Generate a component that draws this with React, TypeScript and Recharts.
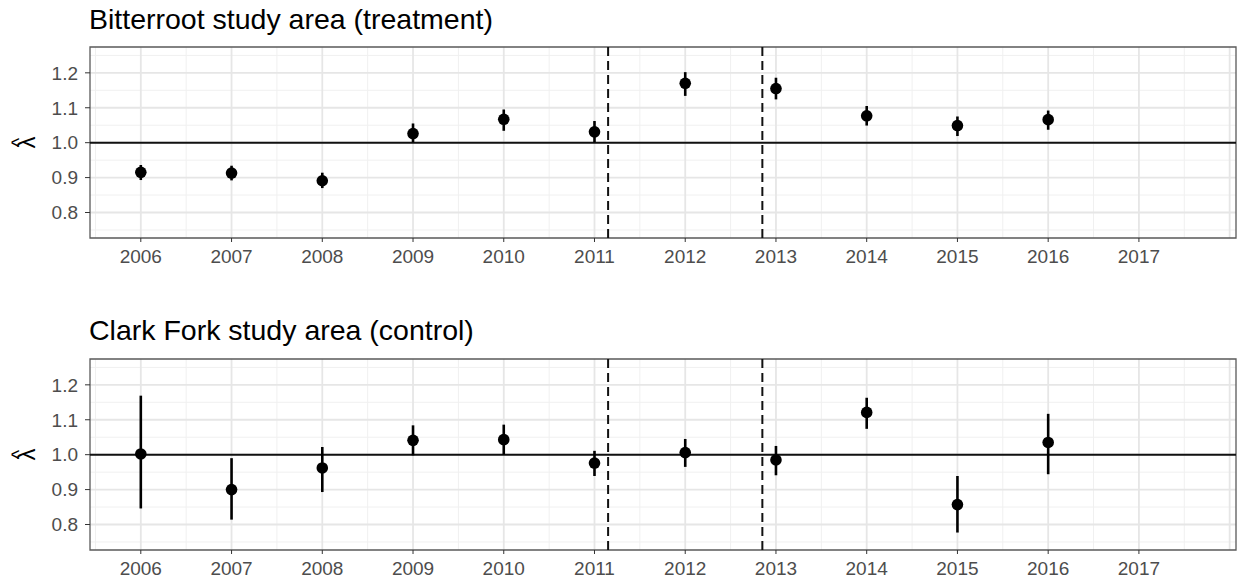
import React from "react"
import {
  ScatterChart, Scatter, XAxis, YAxis, CartesianGrid, ErrorBar,
  ReferenceLine, ReferenceArea, Label,
} from "recharts"

const years = [2006, 2007, 2008, 2009, 2010, 2011, 2012, 2013, 2014, 2015, 2016]

const bitterEst = [0.915, 0.913, 0.891, 1.026, 1.067, 1.031, 1.170, 1.155, 1.077, 1.049, 1.066]
const bitterLo  = [0.893, 0.892, 0.870, 1.001, 1.034, 1.001, 1.134, 1.124, 1.049, 1.019, 1.037]
const bitterHi  = [0.936, 0.934, 0.914, 1.055, 1.095, 1.062, 1.202, 1.186, 1.105, 1.075, 1.092]

const clarkEst = [1.002, 0.900, 0.962, 1.041, 1.043, 0.976, 1.006, 0.985, 1.121, 0.857, 1.035]
const clarkLo  = [0.846, 0.814, 0.893, 0.998, 1.000, 0.939, 0.965, 0.941, 1.074, 0.777, 0.944]
const clarkHi  = [1.169, 0.990, 1.022, 1.084, 1.086, 1.011, 1.045, 1.025, 1.163, 0.939, 1.117]

const xTicks = [2006, 2007, 2008, 2009, 2010, 2011, 2012, 2013, 2014, 2015, 2016, 2017]
const yTicks = [0.8, 0.9, 1.0, 1.1, 1.2]
const majorX = [2006, 2007, 2008, 2009, 2010, 2011, 2012, 2013, 2014, 2015, 2016, 2017, 2018]
const minorX = [2005.5, 2006.5, 2007.5, 2008.5, 2009.5, 2010.5, 2011.5, 2012.5, 2013.5, 2014.5, 2015.5, 2016.5, 2017.5]
const minorY = [0.75, 0.85, 0.95, 1.05, 1.15, 1.25]

const xDomain: [number, number] = [2005.44, 2018.07]
const yDomain: [number, number] = [0.727, 1.274]
const periodLines = [2011.15, 2012.85]
const baseline = 1

const FONT = '"Liberation Sans", Arial, Helvetica, sans-serif'
const W = 1238

// rotated lambda-hat axis title
function LambdaLabel(props: any) {
  const vb = props.viewBox || {}
  const cy = (vb.y ?? 0) + (vb.height ?? 0) / 2
  return (
    <g transform={`translate(0, ${cy}) rotate(-90)`}>
      <text x={0} y={35} textAnchor="middle" fontSize={24} fill="#000" fontFamily={FONT}>λ</text>
      <text x={0} y={26} textAnchor="middle" fontSize={20} fill="#000" fontFamily={FONT}>^</text>
    </g>
  )
}

function Dot(props: any) {
  return <circle cx={props.cx} cy={props.cy} r={5.8} fill="#000" />
}

interface PanelProps {
  title: string
  est: number[]
  lo: number[]
  hi: number[]
  top: number
  height: number
  marginTop: number
  marginBottom: number
  titleTop: number
}

function Panel({ title, est, lo, hi, top, height, marginTop, marginBottom, titleTop }: PanelProps) {
  const data = years.map((y, i) => ({
    year: y,
    est: est[i],
    err: [est[i] - lo[i], hi[i] - est[i]],
  }))
  return (
    <>
      <div style={{
        position: "absolute", left: 89, top: titleTop, fontSize: 28.5, lineHeight: "28px",
        fontFamily: FONT, color: "#000", whiteSpace: "nowrap",
      }}>{title}</div>
      <div style={{ position: "absolute", left: 0, top, width: W, height }}>
        <ScatterChart width={W} height={height} margin={{ top: marginTop, right: 2, bottom: marginBottom, left: 0 }}>
          <CartesianGrid horizontalValues={minorY} verticalValues={minorX} stroke="#f0f0f0" strokeWidth={1} />
          <CartesianGrid horizontalValues={yTicks} verticalValues={majorX} stroke="#e6e6e6" strokeWidth={1.8} />
          <XAxis
            type="number" dataKey="year" domain={xDomain} ticks={xTicks} allowDataOverflow
            axisLine={false} tickLine={{ stroke: "#333" }} tickSize={4} tickMargin={8} height={30}
            tick={{ fill: "#4d4d4d", fontSize: 19, fontFamily: FONT }}
          />
          <YAxis
            type="number" dataKey="est" domain={yDomain} ticks={yTicks} allowDataOverflow
            axisLine={false} tickLine={{ stroke: "#333" }} tickSize={5} tickMargin={7} width={90}
            tick={{ fill: "#4d4d4d", fontSize: 19, fontFamily: FONT }}
            tickFormatter={(v: number) => v.toFixed(1)}
          >
            <Label content={<LambdaLabel />} position="insideLeft" />
          </YAxis>
          <ReferenceLine y={baseline} stroke="#111" strokeWidth={2} />
          {periodLines.map((x) => (
            <ReferenceLine key={x} x={x} stroke="#111" strokeWidth={2} strokeDasharray="9 5" />
          ))}
          <ReferenceArea
            x1={xDomain[0]} x2={xDomain[1]} y1={yDomain[0]} y2={yDomain[1]}
            fill="none" fillOpacity={0} stroke="#5a5a5a" strokeWidth={1.3} ifOverflow="visible"
          />
          <Scatter data={data} dataKey="est" shape={<Dot />} fill="#000" isAnimationActive={false}>
            <ErrorBar dataKey="err" direction="y" width={0} stroke="#000" strokeWidth={2.6} isAnimationActive={false} />
          </Scatter>
        </ScatterChart>
      </div>
    </>
  )
}

export default function App() {
  return (
    <div style={{ position: "absolute", left: 0, top: 0, width: W, height: 581, background: "#fff", overflow: "hidden" }}>
      <Panel
        title="Bitterroot study area (treatment)"
        est={bitterEst} lo={bitterLo} hi={bitterHi}
        top={0} height={290} marginTop={47} marginBottom={22} titleTop={5}
      />
      <Panel
        title="Clark Fork study area (control)"
        est={clarkEst} lo={clarkLo} hi={clarkHi}
        top={290} height={291} marginTop={69} marginBottom={1} titleTop={316}
      />
    </div>
  )
}
